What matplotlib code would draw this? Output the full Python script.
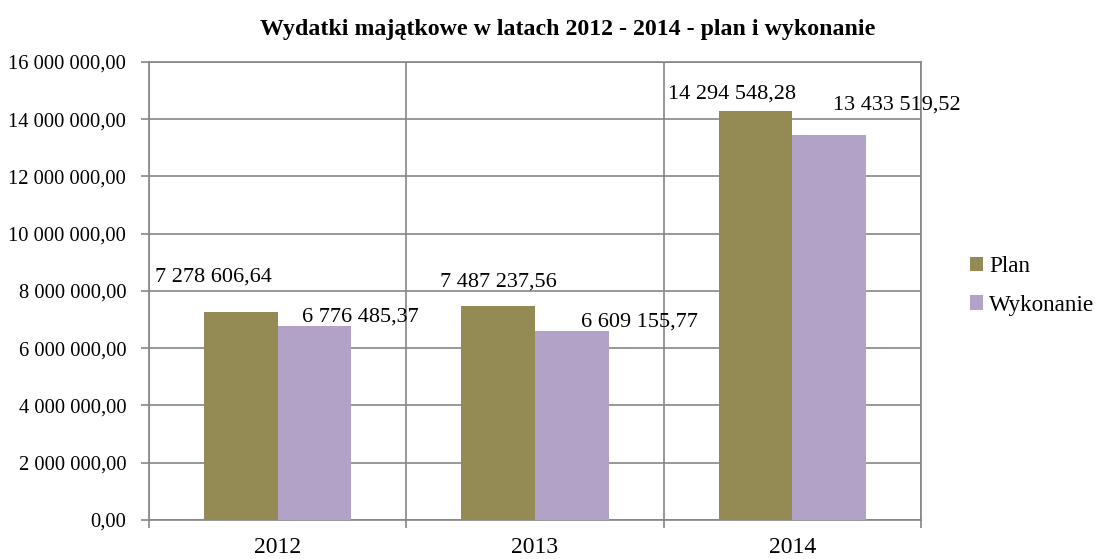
import matplotlib
matplotlib.use('Agg')
import matplotlib.pyplot as plt
from matplotlib.ticker import FuncFormatter
import numpy as np

plt.rcParams['font.family'] = ['Liberation Serif', 'DejaVu Serif']

years = ['2012', '2013', '2014']
plan = [7278606.64, 7487237.56, 14294548.28]
wykonanie = [6776485.37, 6609155.77, 13433519.52]

# label offsets (pixels) relative to bar top centre, as placed in the original
plan_off = [(-27, 35), (0, 24), (-24, 17)]
wyk_off = [(46, 9), (68, 9), (68, 30)]


def pl_num(v):
    s = '{:,.2f}'.format(v)
    return s.replace(',', ' ').replace('.', ',')


fig = plt.figure(figsize=(11, 5.59), dpi=100)
ax = fig.add_axes([0.1355, 0.0698, 0.7018, 0.8193])

x = np.arange(len(years))
w = 0.286
grid_c = '#868686'

b1 = ax.bar(x - w / 2, plan, w, color='#948A54', label='Plan', zorder=3)
b2 = ax.bar(x + w / 2, wykonanie, w, color='#B3A2C7', label='Wykonanie', zorder=3)

px = 0.72  # pixels -> points at 100 dpi
for bars, vals, offs in ((b1, plan, plan_off), (b2, wykonanie, wyk_off)):
    for bar, v, (dx, dy) in zip(bars, vals, offs):
        ax.annotate(pl_num(v), (bar.get_x() + bar.get_width() / 2, v),
                    xytext=(dx * px, dy * px), textcoords='offset points',
                    ha='center', va='center', fontsize=16, zorder=4,
                    annotation_clip=False)

ax.set_xlim(-0.5, 2.5)
ax.set_ylim(0, 16000000)
ax.set_yticks(np.arange(0, 16000001, 2000000))
ax.yaxis.set_major_formatter(FuncFormatter(lambda v, p: pl_num(v)))

ax.set_xticks(x)
ax.set_xticklabels(years)
ax.set_xticks([-0.5, 0.5, 1.5, 2.5], minor=True)
ax.tick_params(axis='x', which='major', length=0, labelsize=17, pad=12)
ax.tick_params(axis='x', which='minor', length=6, color=grid_c, width=1.2)
ax.tick_params(axis='y', length=6, color=grid_c, width=1.2, labelsize=14.8, pad=10.5)

ax.grid(axis='y', color=grid_c, linewidth=1.2, zorder=0)
ax.grid(axis='x', which='minor', color=grid_c, linewidth=1.2, zorder=0)
for s in ax.spines.values():
    s.set_color(grid_c)
    s.set_linewidth(1.2)

fig.text(0.5165, 0.948, 'Wydatki majątkowe w latach 2012 - 2014 - plan i wykonanie',
         ha='center', va='center', fontsize=17.2, fontweight='bold')

fig.legend(handles=[b1, b2], loc='center left', bbox_to_anchor=(0.8818, 0.4884),
           frameon=False, fontsize=16.7, handlelength=0.56, handleheight=0.56,
           handletextpad=0.26, labelspacing=0.75, borderpad=0, borderaxespad=0)

fig.savefig('out.png', dpi=100)
